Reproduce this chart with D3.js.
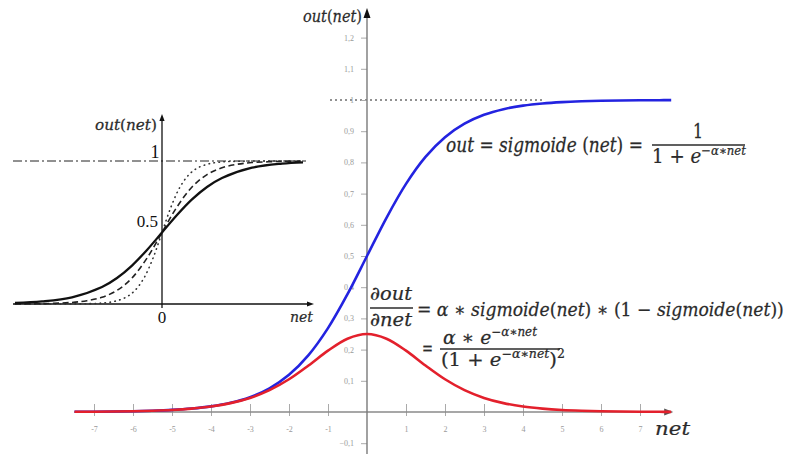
<!DOCTYPE html>
<html>
<head>
<meta charset="utf-8">
<script src="https://cdn.jsdelivr.net/npm/d3@7"></script>
<style>
  html, body { margin: 0; padding: 0; background: #fff; }
  svg { display: block; }
</style>
</head>
<body>
<svg id="chart" width="788" height="454"></svg>
<script>
// ---- main chart data: sigmoid (alpha = 1) and its derivative ----
const netValues = [-7.5, -7, -6.5, -6, -5.5, -5, -4.5, -4, -3.5, -3, -2.5, -2, -1.5, -1, -0.5,
  0, 0.5, 1, 1.5, 2, 2.5, 3, 3.5, 4, 4.5, 5, 5.5, 6, 6.5, 7, 7.5, 7.8];
const sigmoidValues = [0.0006, 0.0009, 0.0015, 0.0025, 0.0041, 0.0067, 0.0110, 0.0180, 0.0293, 0.0474,
  0.0759, 0.1192, 0.1824, 0.2689, 0.3775, 0.5, 0.6225, 0.7311, 0.8176, 0.8808, 0.9241, 0.9526,
  0.9707, 0.9820, 0.9890, 0.9933, 0.9959, 0.9975, 0.9985, 0.9991, 0.9994, 0.9996];
const derivativeValues = [0.0006, 0.0009, 0.0015, 0.0025, 0.0041, 0.0066, 0.0109, 0.0177, 0.0285, 0.0452,
  0.0701, 0.1050, 0.1491, 0.1966, 0.2350, 0.25, 0.2350, 0.1966, 0.1491, 0.1050, 0.0701, 0.0452,
  0.0285, 0.0177, 0.0109, 0.0066, 0.0041, 0.0025, 0.0015, 0.0009, 0.0006, 0.0004];

const xTickValues = [-7, -6, -5, -4, -3, -2, -1, 1, 2, 3, 4, 5, 6, 7];
const yTickValues = [-0.1, 0.1, 0.2, 0.3, 0.4, 0.5, 0.6, 0.7, 0.8, 0.9, 1.0, 1.1, 1.2];

// ---- inset data: sigmoids of increasing steepness ----
const insetSolidNet = [-4.9, -4, -3, -2, -1.5, -1, -0.5, 0, 0.5, 1, 1.5, 2, 3, 4, 4.7];
const insetSolidOut = [0.007, 0.018, 0.047, 0.119, 0.182, 0.269, 0.378, 0.5, 0.622, 0.731, 0.818, 0.881, 0.953, 0.982, 0.991];
const insetDashedNet = [-4.9, -4, -3, -2.5, -2, -1.5, -1, -0.5, 0, 0.5, 1, 1.5, 2, 2.5, 3, 4, 4.7];
const insetDashedOut = [0.0006, 0.0025, 0.011, 0.023, 0.047, 0.095, 0.182, 0.321, 0.5, 0.679, 0.818, 0.905, 0.953, 0.977, 0.989, 0.9975, 0.999];
const insetDottedNet = [-4.9, -3, -2.4, -2, -1.6, -1.2, -0.9, -0.6, -0.3, 0, 0.3, 0.6, 0.9, 1.2, 1.6, 2, 2.4, 3, 4.7];
const insetDottedOut = [0, 0.0006, 0.0025, 0.0067, 0.018, 0.047, 0.095, 0.182, 0.321, 0.5, 0.679, 0.818, 0.905, 0.953, 0.982, 0.9933, 0.9975, 0.9994, 1];

const svg = d3.select("#chart");
const MATH = "'DejaVu Serif', serif";
const TEXT = "#2b2b2b";

// ---------------- main scales ----------------
const x = d3.scaleLinear().domain([-8, 8]).range([55, 679]);
const y = d3.scaleLinear().domain([-0.1, 1.2]).range([443.2, 37.6]);
const x0 = x(0), y0 = y(0);

// y = 1 asymptote
svg.append("line")
  .attr("x1", 330).attr("x2", 545).attr("y1", y(1)).attr("y2", y(1))
  .attr("stroke", "#222").attr("stroke-width", 1).attr("stroke-dasharray", "2,3");

// y axis with ticks (decimal comma)
const yAxis = d3.axisLeft(y).tickValues(yTickValues).tickSize(6).tickPadding(7)
  .tickFormat(d => d3.format("~g")(d).replace(".", ","));
const gy = svg.append("g").attr("transform", `translate(${x0},0)`).call(yAxis);
gy.select(".domain").remove();
gy.selectAll(".tick line").attr("stroke", "#aaa");
gy.selectAll(".tick text").attr("fill", "#9a9a9a").attr("font-size", 8)
  .attr("font-family", "'Liberation Serif', serif");

// x axis with ticks
const xAxis = d3.axisBottom(x).tickValues(xTickValues).tickSize(0).tickPadding(14)
  .tickFormat(d => String(d));
const gx = svg.append("g").attr("transform", `translate(0,${y0})`).call(xAxis);
gx.select(".domain").remove();
gx.selectAll(".tick line").attr("y1", -8).attr("y2", 4).attr("stroke", "#aaa");
gx.selectAll(".tick text").attr("fill", "#9a9a9a").attr("font-size", 8)
  .attr("font-family", "'Liberation Serif', serif");

// axis lines
svg.append("line").attr("x1", x(-7.5)).attr("x2", x(7.8) - 2).attr("y1", y0).attr("y2", y0)
  .attr("stroke", "#8a8a8a").attr("stroke-width", 1.6);
svg.append("path")
  .attr("d", `M${x(7.8) + 2},${y0} l-9,-3.5 l0,7 z`).attr("fill", "#555");
svg.append("line").attr("x1", x0).attr("x2", x0).attr("y1", 454).attr("y2", 14)
  .attr("stroke", "#7a7a7a").attr("stroke-width", 1.4);
svg.append("path")
  .attr("d", `M${x0},8 l-3.5,10 l7,0 z`).attr("fill", "#111");

// curves
const mainLine = d3.line().x(d => x(d[0])).y(d => y(d[1])).curve(d3.curveCatmullRom);
svg.append("path").datum(d3.zip(netValues, sigmoidValues))
  .attr("d", mainLine).attr("fill", "none").attr("stroke", "#2323e0").attr("stroke-width", 2.6);
svg.append("path").datum(d3.zip(netValues, derivativeValues))
  .attr("d", mainLine).attr("fill", "none").attr("stroke", "#e3202c").attr("stroke-width", 2.6);

// ---------------- math text helper ----------------
// parts: [text, kind] with kind: "i" italic, "n" upright, "s" superscript italic, "sn" superscript upright
function mathText(parent, x1, baseline, parts, size, targetWidth, anchor) {
  const t = parent.append("text")
    .attr("x", x1).attr("y", baseline)
    .attr("font-family", MATH).attr("font-size", size).attr("fill", TEXT)
    .attr("stroke", TEXT).attr("stroke-width", 0.25)
    .style("white-space", "pre");
  let lifted = false;
  parts.forEach(([s, k]) => {
    const sp = t.append("tspan").text(s);
    const sup = k === "s" || k === "sn";
    sp.attr("font-style", (k === "i" || k === "s") ? "italic" : "normal");
    if (sup) {
      sp.attr("font-size", size * 0.64);
      if (!lifted) { sp.attr("dy", -size * 0.42); lifted = true; }
    } else if (lifted) {
      sp.attr("dy", size * 0.42); lifted = false;
    }
  });
  const w = t.node().getComputedTextLength();
  const sx = targetWidth / w;
  let ox = x1;
  if (anchor === "middle") ox = x1 - targetWidth / 2;
  t.attr("x", 0).attr("transform", `translate(${ox},0) scale(${sx},1)`);
  return t;
}
function bar(x1, x2, yy) {
  svg.append("line").attr("x1", x1).attr("x2", x2).attr("y1", yy).attr("y2", yy)
    .attr("stroke", TEXT).attr("stroke-width", 1.3);
}

// axis titles
mathText(svg, 303, 22, [["out", "i"], ["(", "n"], ["net", "i"], [")", "n"]], 17, 59);
mathText(svg, 655, 435, [["net", "i"]], 19, 35);

// sigmoid formula
mathText(svg, 446, 152, [["out", "i"], [" = ", "n"], ["sigmoide", "i"], [" (", "n"], ["net", "i"], [")", "n"], [" =", "n"]], 20, 197);
mathText(svg, 698, 138, [["1", "n"]], 20, 10, "middle");
bar(652, 745, 145);
mathText(svg, 652, 163, [["1 + ", "n"], ["e", "i"], ["−α∗net", "s"]], 20, 94);

// derivative formula
mathText(svg, 391, 300, [["∂", "n"], ["out", "i"]], 19, 42, "middle");
bar(370, 413, 308);
mathText(svg, 391, 326, [["∂", "n"], ["net", "i"]], 19, 42, "middle");
mathText(svg, 417, 316, [["= ", "n"], ["α", "i"], [" ∗ ", "n"], ["sigmoide", "i"], ["(", "n"], ["net", "i"],
  [") ∗ (1 − ", "n"], ["sigmoide", "i"], ["(", "n"], ["net", "i"], ["))", "n"]], 19, 367);
mathText(svg, 422, 355, [["=", "n"]], 19, 11);
mathText(svg, 443, 344, [["α", "i"], [" ∗ ", "n"], ["e", "i"], ["−α∗net", "s"]], 19, 94);
bar(440, 560, 349);
mathText(svg, 441, 366, [["(1 + ", "n"], ["e", "i"], ["−α∗net", "s"], [")", "n"], ["2", "sn"]], 19, 124);

// ---------------- inset ----------------
const ix = d3.scaleLinear().domain([-5, 5]).range([12, 312]);
const iy = d3.scaleLinear().domain([0, 1]).range([304, 161]);
const ix0 = ix(0), iy0 = iy(0);

svg.append("line").attr("x1", 13).attr("x2", 306).attr("y1", iy(1)).attr("y2", iy(1))
  .attr("stroke", "#222").attr("stroke-width", 1).attr("stroke-dasharray", "9,3,2,3");
svg.append("line").attr("x1", 13).attr("x2", 309).attr("y1", iy0).attr("y2", iy0)
  .attr("stroke", "#111").attr("stroke-width", 1.3);
svg.append("path").attr("d", `M${314},${iy0} l-7,-2.6 l0,5.2 z`).attr("fill", "#111");
svg.append("line").attr("x1", ix0).attr("x2", ix0).attr("y1", 308).attr("y2", 120)
  .attr("stroke", "#111").attr("stroke-width", 1.3);
svg.append("path").attr("d", `M${ix0},114 l-2.6,7 l5.2,0 z`).attr("fill", "#111");

const insetLine = d3.line().x(d => ix(d[0])).y(d => iy(d[1])).curve(d3.curveCatmullRom);
svg.append("path").datum(d3.zip(insetDottedNet, insetDottedOut)).attr("d", insetLine)
  .attr("fill", "none").attr("stroke", "#333").attr("stroke-width", 1.6)
  .attr("stroke-linecap", "round").attr("stroke-dasharray", "0.5,4.5");
svg.append("path").datum(d3.zip(insetDashedNet, insetDashedOut)).attr("d", insetLine)
  .attr("fill", "none").attr("stroke", "#222").attr("stroke-width", 1.6).attr("stroke-dasharray", "6,3.5");
svg.append("path").datum(d3.zip(insetSolidNet, insetSolidOut)).attr("d", insetLine)
  .attr("fill", "none").attr("stroke", "#111").attr("stroke-width", 2.3);

const SERIF = "'Liberation Serif', serif";
svg.append("text").attr("x", 155).attr("y", 158).attr("text-anchor", "middle")
  .attr("font-family", SERIF).attr("font-size", 18).attr("fill", "#111").text("1");
svg.append("text").attr("x", 158).attr("y", 227).attr("text-anchor", "end")
  .attr("font-family", SERIF).attr("font-size", 17).attr("fill", "#111").text("0.5");
svg.append("text").attr("x", ix0).attr("y", 323).attr("text-anchor", "middle")
  .attr("font-family", SERIF).attr("font-size", 17).attr("fill", "#111").text("0");
mathText(svg, 95, 130, [["out", "i"], ["(", "n"], ["net", "i"], [")", "n"]], 15, 62);
mathText(svg, 290, 322, [["net", "i"]], 15, 23);
</script>
</body>
</html>
